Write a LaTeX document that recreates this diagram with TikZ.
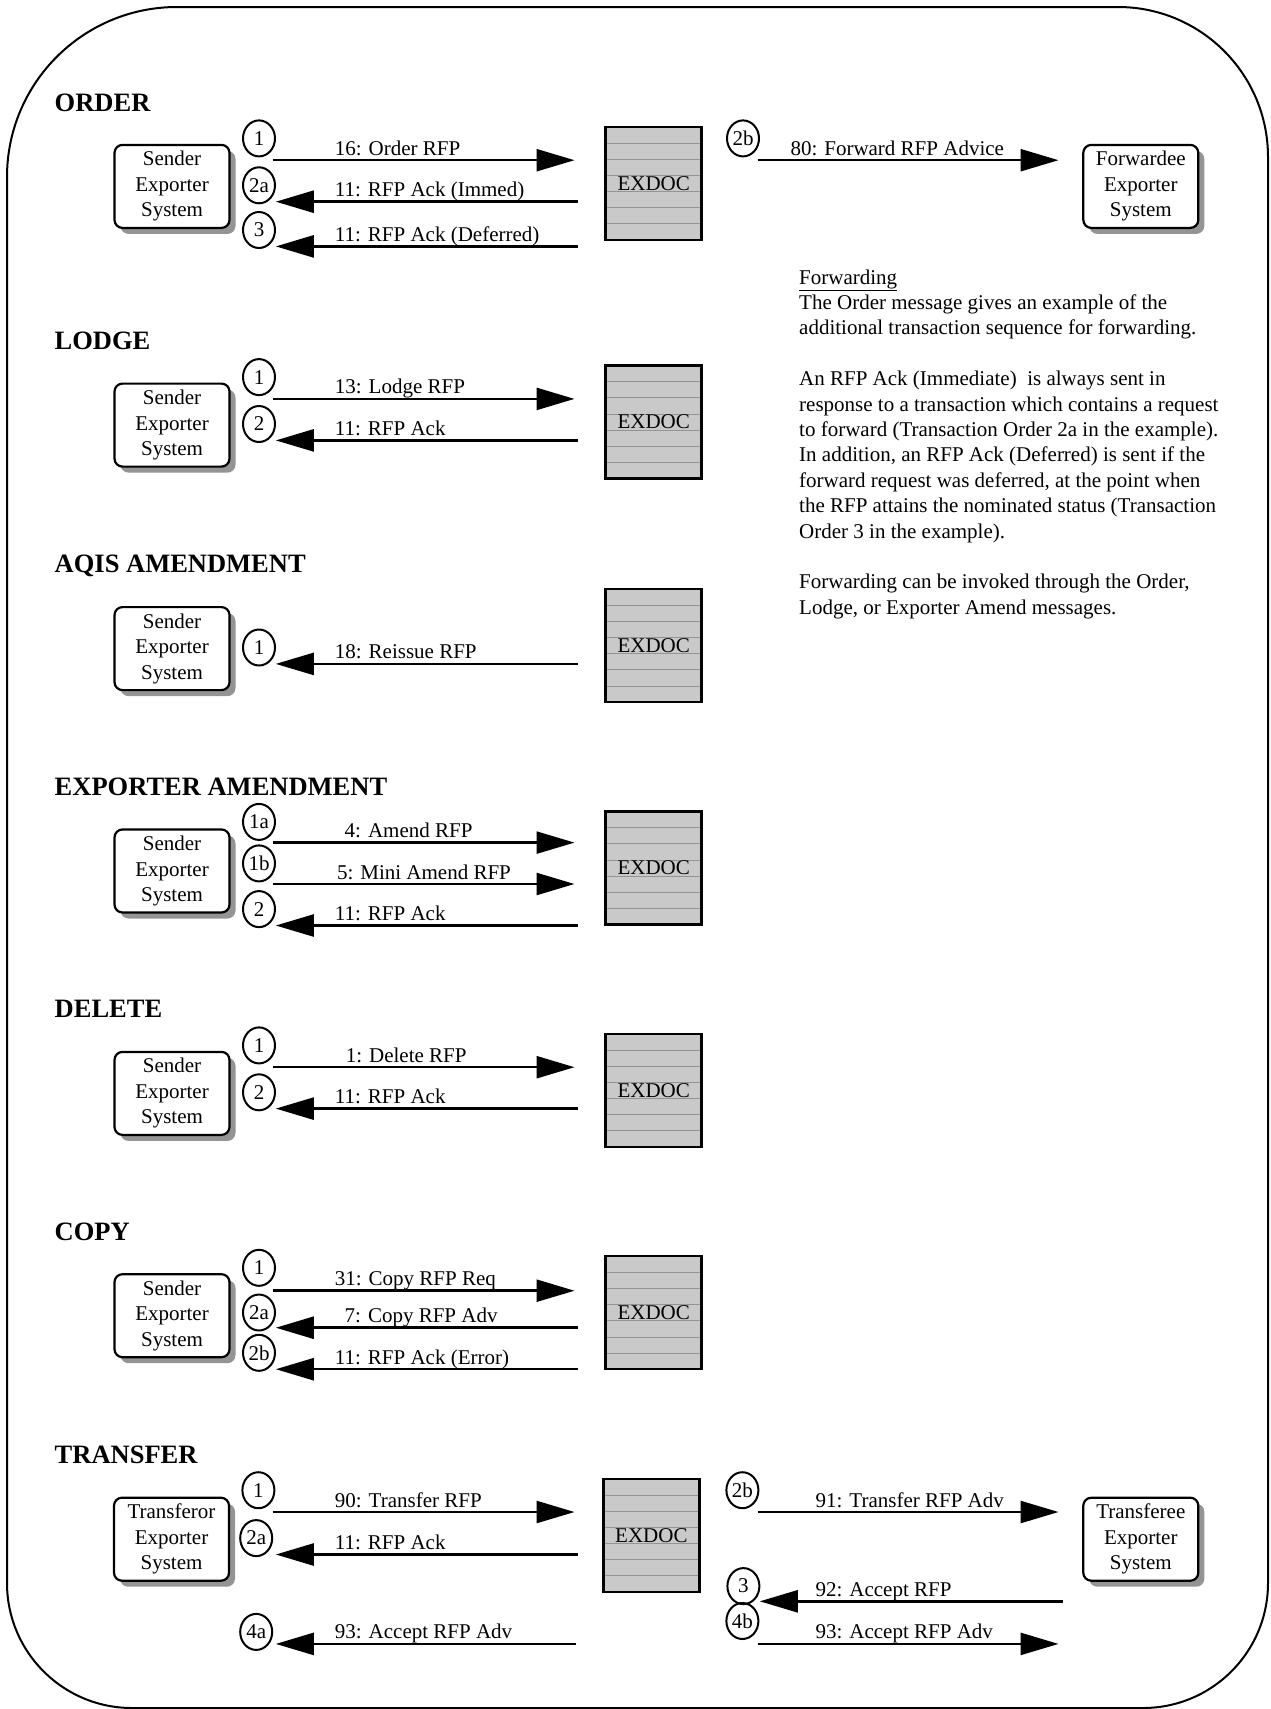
\documentclass[tikz,border=0pt]{standalone}
\usepackage{fontspec}
\setmainfont{Liberation Serif}
\usetikzlibrary{arrows.meta,shapes.geometric,shadows,calc}
\tikzset{
  txt/.style={font=\fontsize{21pt}{25.5pt}\selectfont},
  sysbox/.style={txt, draw, line width=2.2pt, rounded corners=8pt, fill=white,
    minimum width=115pt, minimum height=83pt, align=center, inner sep=0pt,
    drop shadow={shadow xshift=6pt, shadow yshift=-6pt, fill=black!42, opacity=1, draw=none}},
  sectitle/.style={anchor=base west, inner sep=0pt, font=\bfseries\fontsize{26.5pt}{30pt}\selectfont},
  lbl/.style={txt, anchor=base west, inner sep=0pt},
  para/.style={txt, anchor=base west, inner sep=0pt},
  num/.style={txt, ellipse, draw, line width=2pt, minimum width=32pt, minimum height=36pt, inner sep=0pt},
  exdoc/.style={txt, draw, line width=2.5pt, fill=black!21, minimum width=96pt, minimum height=113pt, inner sep=0pt,
    path picture={\foreach \k in {1,...,6}{\draw[black!42, line width=0.8pt]
      ($(path picture bounding box.north west)!\k/7!(path picture bounding box.south west)$) --
      ($(path picture bounding box.north east)!\k/7!(path picture bounding box.south east)$);}}},
  msg/.style={line width=2.5pt, -{Triangle[length=38pt,width=22pt]}}
}
\newcommand\mymsg[6]{%
  \coordinate (#1s) at (#3,#2);
  \coordinate (#1e) at (#4,#2);
  \draw[msg] (#1s) -- (#1e);
  \node[lbl] (#1l) at (#5,#2-5) {#6};}
\newcommand\mynum[4]{\node[num] (#1) at (#2,#3) {#4};}
\begin{document}
\begin{tikzpicture}[x=1pt,y=-1pt]
\useasboundingbox (0,0) rectangle (1270,1709);
% frame
\draw[line width=2pt] (7,1583) -- (7,177) arc[start angle=180,end angle=90,radius=170pt]
  -- (1118,7) arc[start angle=90,end angle=0,radius=150pt]
  -- (1268,1583) arc[start angle=0,end angle=-90,radius=125pt]
  -- (132,1708) arc[start angle=270,end angle=180,radius=125pt] -- cycle;

% ORDER
\node[sectitle] (tOrder) at (54.5,111) {ORDER};
\node[sysbox] (oSend) at (172,186.4) {Sender\\Exporter\\System};
\node[exdoc] (oEx) at (653.7,183.4) {EXDOC};
\node[sysbox] (oFwd) at (1140.8,186.4) {Forwardee\\Exporter\\System};
\mymsg{oA}{160.2}{272.5}{574.5}{334.7}{16: Order RFP}
\mymsg{oB}{201.7}{577.8}{275.8}{334.7}{11: RFP Ack (Immed)}
\mymsg{oC}{246.4}{577.8}{275.8}{334.7}{11: RFP Ack (Deferred)}
\mymsg{oD}{160.2}{757.6}{1058.5}{790.3}{80: Forward RFP Advice}
\mynum{oN1}{259}{138.4}{1}
\mynum{oN2}{259}{185.3}{2a}
\mynum{oN3}{259}{230}{3}
\mynum{oN4}{743}{138.4}{2b}

% Forwarding note
\node[para] (p0) at (799,284) {\underline{Forwarding}};
\node[para] (p1) at (799,309.4) {The Order message gives an example of the};
\node[para] (p2) at (799,334.8) {additional transaction sequence for forwarding.};
\node[para] (p4) at (799,385.6) {An RFP Ack (Immediate)\ \ is always sent in};
\node[para] (p5) at (799,411) {response to a transaction which contains a request};
\node[para] (p6) at (799,436.4) {to forward (Transaction Order 2a in the example).};
\node[para] (p7) at (799,461.8) {In addition, an RFP Ack (Deferred) is sent if the};
\node[para] (p8) at (799,487.2) {forward request was deferred, at the point when};
\node[para] (p9) at (799,512.6) {the RFP attains the nominated status (Transaction};
\node[para] (p10) at (799,538) {Order 3 in the example).};
\node[para] (p12) at (799,588.8) {Forwarding can be invoked through the Order,};
\node[para] (p13) at (799,614.2) {Lodge, or Exporter Amend messages.};

% LODGE
\node[sectitle] (tLodge) at (54.5,349.7) {LODGE};
\node[sysbox] (lSend) at (172,425.1) {Sender\\Exporter\\System};
\node[exdoc] (lEx) at (653.7,422.1) {EXDOC};
\mymsg{lA}{398.9}{272.5}{574.5}{334.7}{13: Lodge RFP}
\mymsg{lB}{440.4}{577.8}{275.8}{334.7}{11: RFP Ack}
\mynum{lN1}{259}{377.1}{1}
\mynum{lN2}{259}{424}{2}

% AQIS AMENDMENT
\node[sectitle] (tAqis) at (54.5,572.8) {AQIS AMENDMENT};
\node[sysbox] (aSend) at (172,648.6) {Sender\\Exporter\\System};
\node[exdoc] (aEx) at (653.7,645.6) {EXDOC};
\mymsg{aA}{663.9}{577.8}{275.8}{334.7}{18: Reissue RFP}
\mynum{aN1}{259}{647.5}{1}

% EXPORTER AMENDMENT
\node[sectitle] (tExp) at (54.5,795.4) {EXPORTER AMENDMENT};
\node[sysbox] (eSend) at (172,871) {Sender\\Exporter\\System};
\node[exdoc] (eEx) at (653.7,868) {EXDOC};
\mymsg{eA}{842.6}{272.5}{574.5}{344.5}{4: Amend RFP}
\mymsg{eB}{884}{272.5}{574.5}{336.8}{5: Mini Amend RFP}
\mymsg{eC}{925.5}{577.8}{275.8}{334.7}{11: RFP Ack}
\mynum{eN1}{259}{821.9}{1a}
\mynum{eN2}{259}{863.4}{1b}
\mynum{eN3}{259}{909.1}{2}

% DELETE
\node[sectitle] (tDel) at (54.5,1017.8) {DELETE};
\node[sysbox] (dSend) at (172,1093.4) {Sender\\Exporter\\System};
\node[exdoc] (dEx) at (653.7,1090.4) {EXDOC};
\mymsg{dA}{1067.2}{272.5}{574.5}{345.6}{1: Delete RFP}
\mymsg{dB}{1108.6}{577.8}{275.8}{334.7}{11: RFP Ack}
\mynum{dN1}{259}{1045.4}{1}
\mynum{dN2}{259}{1092.3}{2}

% COPY
\node[sectitle] (tCopy) at (54.5,1240.1) {COPY};
\node[sysbox] (cSend) at (172,1315.7) {Sender\\Exporter\\System};
\node[exdoc] (cEx) at (653.7,1312.7) {EXDOC};
\mymsg{cA}{1290.7}{272.5}{574.5}{334.7}{31: Copy RFP Req}
\mymsg{cB}{1327.7}{577.8}{275.8}{344.5}{7: Copy RFP Adv}
\mymsg{cC}{1369.2}{577.8}{275.8}{334.7}{11: RFP Ack (Error)}
\mynum{cN1}{259}{1267.8}{1}
\mynum{cN2}{259}{1312.5}{2a}
\mynum{cN3}{259}{1352.8}{2b}

% TRANSFER
\node[sectitle] (tTr) at (54.5,1463.6) {TRANSFER};
\node[sysbox] (tSend) at (171.5,1539.2) {Transferor\\Exporter\\System};
\node[exdoc] (tEx) at (651.4,1535.4) {EXDOC};
\node[sysbox] (tRecv) at (1140.8,1539.2) {Transferee\\Exporter\\System};
\mymsg{tA}{1512}{272.5}{574.5}{334.7}{90: Transfer RFP}
\mymsg{tB}{1554.5}{577.8}{275.8}{334.7}{11: RFP Ack}
\mymsg{tC}{1643.9}{575.6}{275.8}{334.7}{93: Accept RFP Adv}
\mymsg{tD}{1512}{757.6}{1058.5}{815.4}{91: Transfer RFP Adv}
\mymsg{tE}{1601.3}{1062.8}{759.8}{815.4}{92: Accept RFP}
\mymsg{tF}{1643.9}{757.6}{1058.5}{815.4}{93: Accept RFP Adv}
\mynum{tN1}{258.4}{1490.2}{1}
\mynum{tN2}{256.2}{1538.1}{2a}
\mynum{tN3}{256.2}{1631.9}{4a}
\mynum{tN4}{742.4}{1490.2}{2b}
\mynum{tN5}{743.4}{1586.1}{3}
\mynum{tN6}{742.4}{1621}{4b}
\end{tikzpicture}
\end{document}
